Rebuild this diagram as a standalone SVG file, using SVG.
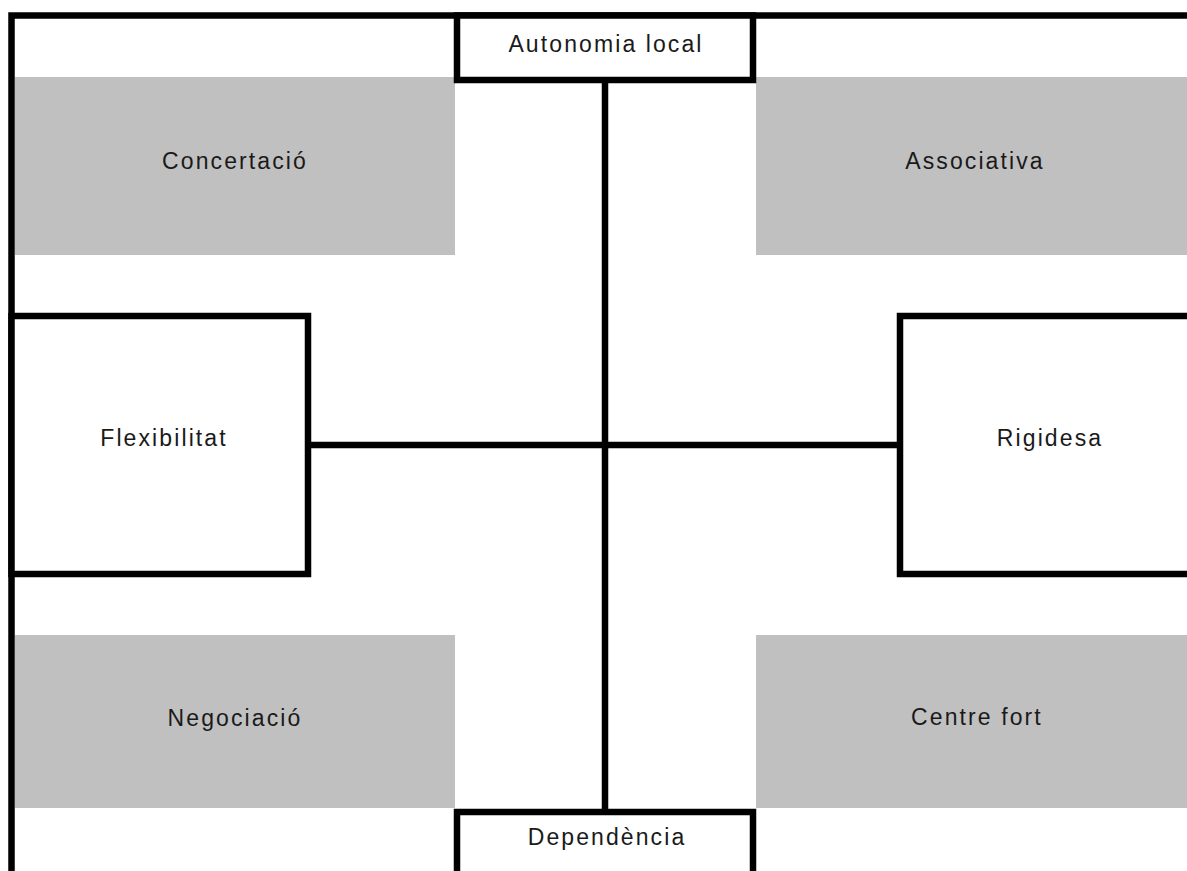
<svg xmlns="http://www.w3.org/2000/svg" width="1187" height="871" viewBox="0 0 1187 871">
<style>
.bg{fill:#ffffff}
.gray{fill:#c0c0c0}
.box{fill:#ffffff;stroke:#000000;stroke-width:6.5}
.ln{stroke:#000000;stroke-width:6.5;fill:none}
.t{font-family:"Liberation Sans",Arial,sans-serif;font-size:23px;letter-spacing:2.1px;fill:#1a1a1a;text-anchor:middle}
</style>
<rect class="bg" x="0" y="0" width="1187" height="871"/>
<g id="concertacio"><rect class="gray" x="15" y="77" width="440" height="178"/><text class="t" x="235" y="169">Concertació</text></g>
<g id="associativa"><rect class="gray" x="756" y="77" width="431" height="178"/><text class="t" x="975" y="169">Associativa</text></g>
<g id="negociacio"><rect class="gray" x="15" y="635" width="440" height="173"/><text class="t" x="235" y="726">Negociació</text></g>
<g id="centre-fort"><rect class="gray" x="756" y="635" width="431" height="173"/><text class="t" x="977" y="725">Centre fort</text></g>
<g id="frame"><path class="ln" d="M11.5 871 V15.5 H1190"/></g>
<g id="connectors"><path class="ln" d="M605 80 V812"/><path class="ln" d="M308 445 H900"/></g>
<g id="autonomia"><rect class="box" x="457" y="15.5" width="296" height="64.5"/><text class="t" x="606" y="52">Autonomia local</text></g>
<g id="flexibilitat"><rect class="box" x="11.5" y="316" width="296.5" height="258"/><text class="t" x="164" y="446">Flexibilitat</text></g>
<g id="rigidesa"><rect class="box" x="900" y="316" width="310" height="258"/><text class="t" x="1050" y="446">Rigidesa</text></g>
<g id="dependencia"><rect class="box" x="457" y="812" width="296" height="100"/><text class="t" x="607" y="845">Dependència</text></g>
</svg>
